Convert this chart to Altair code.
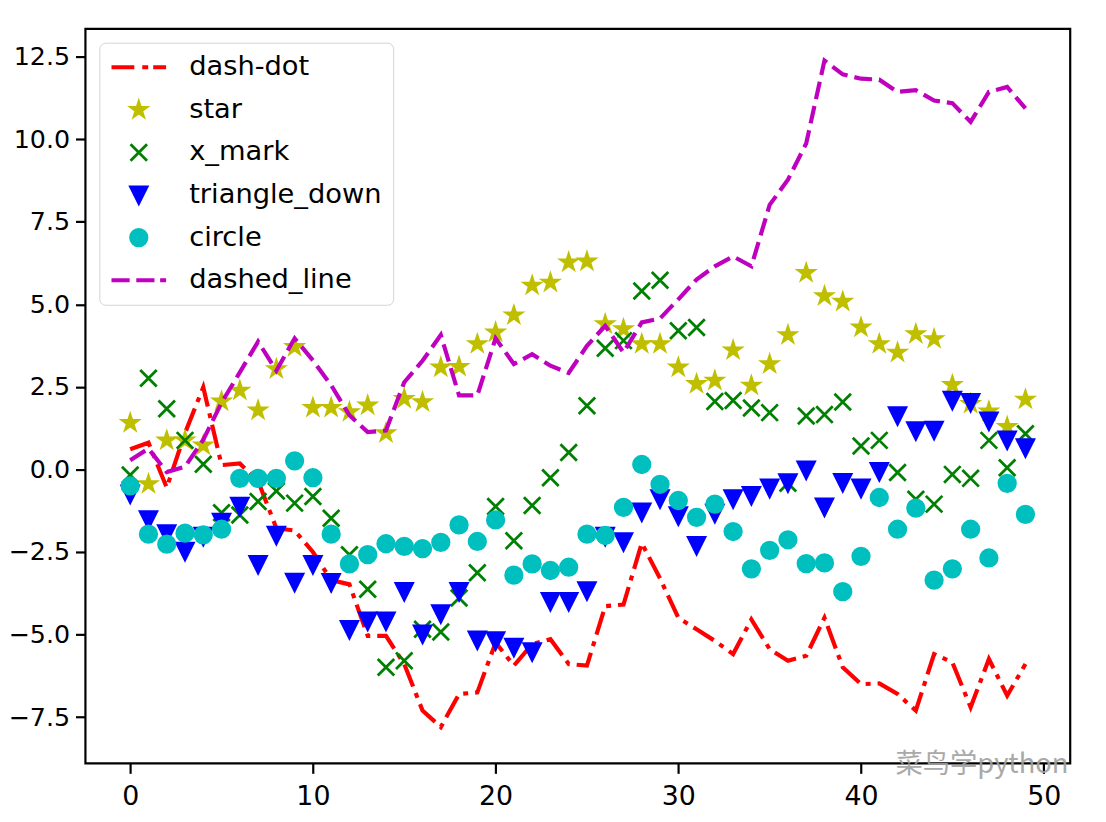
import math
import altair as alt
import pandas as pd

# ---------------- data ----------------
x_values = list(range(50))

series_names = ["dash-dot", "star", "x_mark", "triangle_down", "circle", "dashed_line"]
series_colors = ["#ff0000", "#bfbf00", "#008000", "#0000ff", "#00bfbf", "#bf00bf"]

dash_dot = [0.61, 0.81, -0.55, 1.1, 2.49, 0.13, 0.18, -0.35, -1.78, -1.85,
            -2.5, -3.35, -3.48, -5.04, -5.04, -5.89, -7.3, -7.8, -6.8, -6.75,
            -5.24, -5.94, -5.29, -5.14, -5.89, -5.94, -4.14, -4.09, -2.23, -3.3,
            -4.49, -4.84, -5.19, -5.59, -4.54, -5.44, -5.79, -5.64, -4.49, -5.99,
            -6.5, -6.48, -6.8, -7.3, -5.59, -5.84, -7.2, -5.74, -6.85, -5.89]

star = [1.41, -0.44, 0.88, 0.88, 0.73, 2.06, 2.39, 1.79, 3.04, 3.71,
        1.87, 1.87, 1.74, 1.94, 1.1, 2.14, 2.04, 3.09, 3.11, 3.8,
        4.15, 4.67, 5.57, 5.66, 6.27, 6.3, 4.4, 4.25, 3.8, 3.8,
        3.09, 2.59, 2.69, 3.61, 2.54, 3.19, 4.07, 5.95, 5.25, 5.08,
        4.3, 3.8, 3.54, 4.1, 3.95, 2.56, 1.99, 1.76, 1.29, 2.12]

x_mark = [-0.17, 2.76, 1.84, 0.88, 0.16, -1.31, -1.38, -0.97, -0.65, -1.02,
          -0.82, -1.48, -2.58, -3.63, -5.99, -5.79, -4.84, -4.92, -3.89, -3.13,
          -1.12, -2.16, -1.09, -0.25, 0.51, 1.93, 3.67, 3.9, 5.4, 5.73,
          4.2, 4.3, 2.06, 2.09, 1.86, 1.72, -0.42, 1.62, 1.66, 2.04,
          0.71, 0.88, -0.09, -0.9, -1.05, -0.15, -0.27, 0.88, 0.05, 1.08]

triangle_down = [-0.75, -1.53, -1.95, -2.48, -2.03, -1.6, -1.12, -2.88, -2.0, -3.42,
                 -2.88, -3.43, -4.85, -4.59, -4.59, -3.7, -4.99, -4.37, -3.7, -5.17,
                 -5.19, -5.39, -5.52, -4.0, -4.0, -3.68, -2.03, -2.19, -1.29, -0.89,
                 -1.41, -2.31, -1.33, -0.89, -0.79, -0.57, -0.41, -0.02, -1.14, -0.4,
                 -0.57, -0.07, 1.62, 1.17, 1.18, 2.09, 2.02, 1.46, 0.89, 0.65]

circle = [-0.5, -1.96, -2.26, -1.93, -1.98, -1.81, -0.27, -0.27, -0.27, 0.26,
          -0.25, -1.96, -2.86, -2.58, -2.25, -2.33, -2.4, -2.21, -1.68, -2.18,
          -1.53, -3.2, -2.86, -3.06, -2.96, -1.96, -2.0, -1.15, 0.15, -0.45,
          -0.94, -1.45, -1.05, -1.88, -3.01, -2.45, -2.13, -2.85, -2.83, -3.7,
          -2.63, -0.85, -1.81, -1.17, -3.35, -3.01, -1.81, -2.68, -0.42, -1.36]

dashed_line = [0.28, 0.63, -0.08, 0.08, 0.9, 2.02, 2.94, 3.87, 2.99, 3.97,
               3.3, 2.55, 1.64, 1.13, 1.18, 2.64, 3.29, 4.07, 2.24, 2.24,
               3.97, 3.19, 3.49, 3.14, 2.92, 3.74, 4.35, 3.54, 4.45, 4.57,
               5.15, 5.75, 6.15, 6.45, 6.15, 8.01, 8.77, 9.87, 12.38, 11.96,
               11.83, 11.8, 11.43, 11.48, 11.17, 11.09, 10.52, 11.43, 11.58, 10.93]

x_ticks = [0, 10, 20, 30, 40, 50]
y_ticks = [-7.5, -5.0, -2.5, 0.0, 2.5, 5.0, 7.5, 10.0, 12.5]
watermark = ["菜鸟学python"]

# ---------------- tables ----------------
line_df = pd.DataFrame({
    "x": x_values * 2,
    "y": dash_dot + dashed_line,
    "series": ["dash-dot"] * 50 + ["dashed_line"] * 50,
})

point_series = [("star", star), ("x_mark", x_mark),
                ("triangle_down", triangle_down), ("circle", circle)]
rows = []
k = 0
for name, vals in point_series:
    for xv, yv in zip(x_values, vals):
        rows.append({"x": xv, "y": yv, "series": name, "rank": k})
        k += 1
point_df = pd.DataFrame(rows)


# ---------------- marker shapes (unit paths) ----------------
def star_path(R=0.9, ratio=0.381966):
    pts = []
    for i in range(10):
        ang = math.radians(-90 + 36 * i)
        rad = R if i % 2 == 0 else R * ratio
        pts.append(f"{rad * math.cos(ang):.3f},{rad * math.sin(ang):.3f}")
    return "M" + "L".join(pts) + "Z"


def strip_path(segments, h=0.08):
    return "".join(f"M{a:.3f},{-h}L{b:.3f},{-h}L{b:.3f},{h}L{a:.3f},{h}Z" for a, b in segments)


r = 0.96
shape_paths = [
    strip_path([(-3.014, -0.681), (0.566, 0.935), (1.836, 3.014)]),           # dash-dot
    star_path(),                                                              # star
    f"M{-r},{-r}L{r},{r}M{-r},{r}L{r},{-r}",                                   # x
    f"M0,{r}L{r},{-r}L{-r},{-r}Z",                                             # triangle down
    f"M{r},0A{r},{r},0,1,1,{-r},0A{r},{r},0,1,1,{r},0Z",                       # circle
    strip_path([(-3.014, -1.224), (-0.127, 1.663), (2.644, 3.014)]),          # dashed
]

# ---------------- scales / axes ----------------
xscale = alt.Scale(domain=[-2.45, 51.45], nice=False, zero=False)
yscale = alt.Scale(domain=[-8.9, 13.34], nice=False, zero=False)

axis_common = dict(tickSize=10, tickWidth=2.2, tickColor="black",
                   labelFont="DejaVu Sans", labelColor="black",
                   domain=False, grid=False, title=None)
xaxis = alt.Axis(values=x_ticks, format="d", labelPadding=10, labelFontSize=27, **axis_common)
yaxis = alt.Axis(values=y_ticks, format=".1f", labelPadding=6, labelFontSize=25.5, **axis_common)

X = alt.X("x:Q", scale=xscale, axis=xaxis)
Y = alt.Y("y:Q", scale=yscale, axis=yaxis)


def make_legend():
    return alt.Legend(title=None, orient="none", legendX=14, legendY=14,
                      symbolSize=300, symbolStrokeWidth=2.8, symbolOffset=15,
                      labelOffset=37, padding=11, rowPadding=13.9,
                      labelFontSize=27.5, labelFont="DejaVu Sans", labelColor="black",
                      labelLimit=400, strokeColor="#d4d4d4", fillColor="white",
                      cornerRadius=6, symbolOpacity=1)


color_scale = alt.Scale(domain=series_names, range=series_colors)
shape_scale = alt.Scale(domain=series_names, range=shape_paths)

red_line = alt.Chart(line_df).transform_filter(
    alt.datum.series == "dash-dot"
).mark_line(color="#ff0000", strokeWidth=4.2, strokeDash=[24, 7, 5, 7]).encode(x=X, y=Y)

magenta_line = alt.Chart(line_df).transform_filter(
    alt.datum.series == "dashed_line"
).mark_line(color="#bf00bf", strokeWidth=4.2, strokeDash=[18, 7]).encode(x=X, y=Y)

points = alt.Chart(point_df).mark_point(
    filled=True, opacity=1, size=300, strokeWidth=2.8
).encode(
    x=X, y=Y,
    fill=alt.Fill("series:N", scale=color_scale, legend=make_legend()),
    stroke=alt.Stroke("series:N", scale=color_scale, legend=make_legend()),
    shape=alt.Shape("series:N", scale=shape_scale, legend=make_legend()),
    order=alt.Order("rank:Q"),
)

mark_wm = alt.Chart(pd.DataFrame({"t": watermark})).mark_text(
    align="left", baseline="middle", font="Noto Sans CJK SC", fontSize=27.5,
    color="#a0a0a0", opacity=0.9
).encode(text="t:N", x=alt.value(816), y=alt.value(742))

chart = alt.layer(red_line, points, magenta_line, mark_wm).properties(
    width=992, height=740,
    padding={"left": 78, "top": 18, "right": 28, "bottom": 48},
    autosize=alt.AutoSizeParams(type="none"),
    background="white",
).configure_view(stroke="black", strokeWidth=2.2)

chart.save("out.html", embed_options={"renderer": "svg", "actions": False})
